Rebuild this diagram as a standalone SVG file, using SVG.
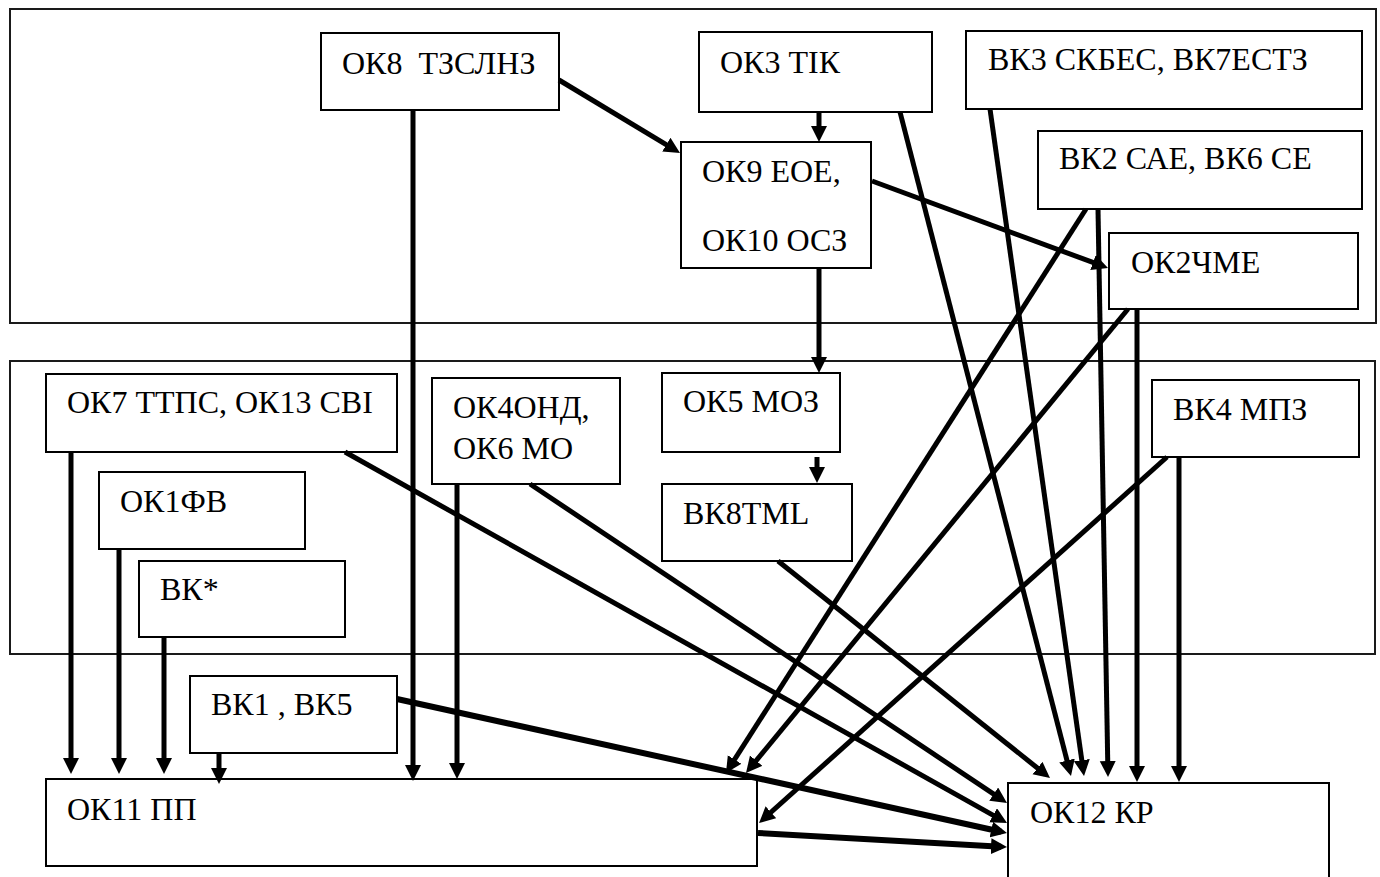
<svg xmlns="http://www.w3.org/2000/svg" width="1380" height="877" viewBox="0 0 1380 877">
<defs>
<marker id="ah" markerUnits="userSpaceOnUse" markerWidth="17" markerHeight="17" refX="10" refY="8" orient="auto">
<path d="M0,0 L16,8 L0,16 z" fill="#000"/>
</marker>
</defs>
<rect width="1380" height="877" fill="#fff"/>
<g id="frames" fill="none" stroke="#1a1a1a" stroke-width="2">
<rect x="10" y="9" width="1366" height="314"/>
<rect x="10" y="361" width="1365" height="293"/>
</g>
<g id="n-ok8"><rect x="321" y="33" width="238" height="77" fill="#fff" stroke="#000" stroke-width="2"/><text x="342" y="74" style="font-family:'Liberation Serif',serif;font-size:32px" xml:space="preserve">ОК8  ТЗСЛНЗ</text></g>
<g id="n-ok3"><rect x="699" y="32" width="233" height="80" fill="#fff" stroke="#000" stroke-width="2"/><text x="720" y="73" style="font-family:'Liberation Serif',serif;font-size:32px">ОК3 ТІК</text></g>
<g id="n-vk3"><rect x="966" y="31" width="396" height="78" fill="#fff" stroke="#000" stroke-width="2"/><text x="988" y="70" style="font-family:'Liberation Serif',serif;font-size:32px">ВК3 СКБЕС, ВК7ЕСТЗ</text></g>
<g id="n-vk2"><rect x="1038" y="131" width="324" height="78" fill="#fff" stroke="#000" stroke-width="2"/><text x="1059" y="169" style="font-family:'Liberation Serif',serif;font-size:32px">ВК2 САЕ, ВК6 СЕ</text></g>
<g id="n-ok9"><rect x="681" y="142" width="190" height="126" fill="#fff" stroke="#000" stroke-width="2"/><text x="702" y="182" style="font-family:'Liberation Serif',serif;font-size:32px">ОК9 ЕОЕ,</text><text x="702" y="251" style="font-family:'Liberation Serif',serif;font-size:32px">ОК10 ОСЗ</text></g>
<g id="n-ok2"><rect x="1109" y="233" width="249" height="76" fill="#fff" stroke="#000" stroke-width="2"/><text x="1131" y="273" style="font-family:'Liberation Serif',serif;font-size:32px">ОК2ЧМЕ</text></g>
<g id="n-ok7"><rect x="46" y="374" width="351" height="78" fill="#fff" stroke="#000" stroke-width="2"/><text x="67" y="413" style="font-family:'Liberation Serif',serif;font-size:32px">ОК7 ТТПС, ОК13 СВІ</text></g>
<g id="n-ok1"><rect x="99" y="472" width="206" height="77" fill="#fff" stroke="#000" stroke-width="2"/><text x="120" y="512" style="font-family:'Liberation Serif',serif;font-size:32px">ОК1ФВ</text></g>
<g id="n-vkstar"><rect x="139" y="561" width="206" height="76" fill="#fff" stroke="#000" stroke-width="2"/><text x="160" y="600" style="font-family:'Liberation Serif',serif;font-size:32px">ВК*</text></g>
<g id="n-ok4"><rect x="432" y="378" width="188" height="106" fill="#fff" stroke="#000" stroke-width="2"/><text x="453" y="418" style="font-family:'Liberation Serif',serif;font-size:32px">ОК4ОНД,</text><text x="453" y="459" style="font-family:'Liberation Serif',serif;font-size:32px">ОК6 МО</text></g>
<g id="n-ok5"><rect x="662" y="373" width="178" height="79" fill="#fff" stroke="#000" stroke-width="2"/><text x="683" y="412" style="font-family:'Liberation Serif',serif;font-size:32px">ОК5 МОЗ</text></g>
<g id="n-vk8"><rect x="662" y="484" width="190" height="77" fill="#fff" stroke="#000" stroke-width="2"/><text x="683" y="524" style="font-family:'Liberation Serif',serif;font-size:32px">ВК8TML</text></g>
<g id="n-vk4"><rect x="1152" y="380" width="207" height="77" fill="#fff" stroke="#000" stroke-width="2"/><text x="1173" y="420" style="font-family:'Liberation Serif',serif;font-size:32px">ВК4 МПЗ</text></g>
<g id="n-vk1"><rect x="190" y="676" width="207" height="77" fill="#fff" stroke="#000" stroke-width="2"/><text x="211" y="715" style="font-family:'Liberation Serif',serif;font-size:32px">ВК1 , ВК5</text></g>
<g id="n-ok11"><rect x="46" y="779" width="711" height="87" fill="#fff" stroke="#000" stroke-width="2"/><text x="67" y="820" style="font-family:'Liberation Serif',serif;font-size:32px">ОК11 ПП</text></g>
<g id="n-ok12"><rect x="1008" y="783" width="321" height="110" fill="#fff" stroke="#000" stroke-width="2"/><text x="1030" y="823" style="font-family:'Liberation Serif',serif;font-size:32px">ОК12 КР</text></g>
<g id="connectors" stroke="#000" stroke-width="5" fill="none" marker-end="url(#ah)">
<line x1="559" y1="80" x2="674.9" y2="149.8"/>
<line x1="413" y1="110" x2="413" y2="775"/>
<line x1="819" y1="112" x2="819" y2="136"/>
<line x1="872" y1="181" x2="1102.4" y2="265.9"/>
<line x1="819" y1="268" x2="819" y2="367"/>
<line x1="817" y1="457" x2="817" y2="477"/>
<line x1="900" y1="112" x2="1069.5" y2="770.2"/>
<line x1="990" y1="109" x2="1083.2" y2="770.1"/>
<line x1="1086" y1="209" x2="729.2" y2="767.9"/>
<line x1="1098" y1="209" x2="1107.9" y2="771"/>
<line x1="1128" y1="309" x2="749.8" y2="768.4"/>
<line x1="1137" y1="309" x2="1137" y2="776"/>
<line x1="71" y1="452" x2="71" y2="768"/>
<line x1="119" y1="549" x2="119" y2="768"/>
<line x1="164" y1="637" x2="164" y2="768"/>
<line x1="457" y1="484" x2="457" y2="773"/>
<line x1="530" y1="484" x2="1002" y2="799.7"/>
<line x1="345" y1="452" x2="1001.8" y2="820.1"/>
<line x1="778" y1="561" x2="1045.3" y2="774.3"/>
<line x1="1167" y1="457" x2="763.5" y2="819"/>
<line x1="1179" y1="457" x2="1179" y2="776"/>
<line x1="219" y1="753" x2="219" y2="778"/>
<line x1="397" y1="699" x2="1001.1" y2="831.7" stroke-width="6"/>
<line x1="758" y1="833" x2="1001" y2="846.7" stroke-width="6"/>
</g>
</svg>
